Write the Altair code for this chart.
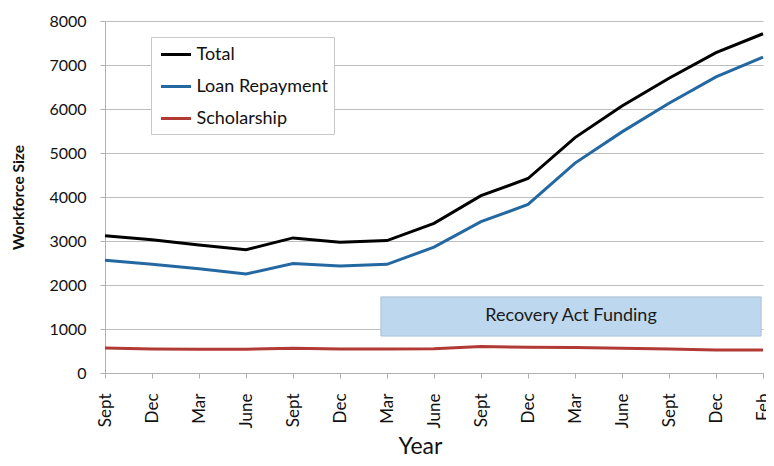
import altair as alt
import pandas as pd

months = ["Sept", "Dec", "Mar", "June", "Sept", "Dec", "Mar", "June",
          "Sept", "Dec", "Mar", "June", "Sept", "Dec", "Feb"]
total = [3120, 3030, 2910, 2800, 3070, 2970, 3010, 3400, 4030, 4420, 5350, 6070, 6700, 7280, 7710]
loan = [2560, 2470, 2370, 2250, 2490, 2430, 2470, 2860, 3440, 3830, 4770, 5480, 6130, 6730, 7180]
scholarship = [570, 545, 540, 540, 560, 545, 545, 550, 600, 585, 580, 560, 545, 520, 520]
series = ["Total", "Loan Repayment", "Scholarship"]
colors = ["#000000", "#2468a2", "#b23a34"]

# Recovery Act funding band (x in category index units, y in workforce units)
band_x = [5.87]
band_x2 = [13.96]
band_y = [840]
band_y2 = [1730]
band_label = ["Recovery Act Funding"]

rows = []
for name, vals in zip(series, [total, loan, scholarship]):
    for i, v in enumerate(vals):
        rows.append({"idx": i, "series": name, "value": v})
df = pd.DataFrame(rows)

band_df = pd.DataFrame({"x": band_x, "x2": band_x2, "y": band_y, "y2": band_y2,
                        "label": band_label})
band_df["xm"] = (band_df["x"] + band_df["x2"]) / 2
band_df["ym"] = (band_df["y"] + band_df["y2"]) / 2

font = "Lato"
label_js = "[" + ",".join("'" + m + "'" for m in months) + "]"

x_scale = alt.Scale(domain=[0, len(months) - 1], nice=False, zero=False)
y_scale = alt.Scale(domain=[0, 8000], nice=False)

x_axis = alt.Axis(
    values=list(range(len(months))),
    labelExpr=label_js + "[datum.value]",
    labelAngle=-90, labelAlign="right", labelBaseline="middle",
    labelFontSize=17, labelFont=font, labelColor="#111", labelPadding=15,
    tickSize=5, tickColor="#b0b0b0", domainColor="#b0b0b0", grid=False,
    title="Year", titleFontSize=23, titleFont=font, titleFontWeight="normal",
    titleColor="#111", titlePadding=8, titleX=315,
)
y_axis = alt.Axis(
    values=list(range(0, 8001, 500)),
    labelExpr="datum.value % 1000 === 0 ? datum.value : ''",
    labelFontSize=16, labelFont=font, labelColor="#111", labelPadding=14,
    tickSize=5, tickColor="#b0b0b0", domainColor="#b0b0b0",
    gridColor="#bdbdbd",
    gridOpacity={"condition": {"test": "datum.value % 1000 === 0", "value": 1}, "value": 0},
    title="Workforce Size", titleFontSize=15.5, titleFont=font, titleFontWeight="bold",
    titleColor="#111", titlePadding=22,
)

lines = alt.Chart(df).mark_line(strokeWidth=3).encode(
    x=alt.X("idx:Q", scale=x_scale, axis=x_axis),
    y=alt.Y("value:Q", scale=y_scale, axis=y_axis),
    color=alt.Color("series:N", scale=alt.Scale(domain=series, range=colors),
                    sort=series,
                    legend=alt.Legend(
                        title=None, orient="none", legendX=46, legendY=16,
                        symbolType="M-1.5,0H1.5", symbolStrokeWidth=3, symbolSize=400,
                        symbolOffset=7.5,
                        labelFontSize=18, labelFont=font, labelColor="#111",
                        rowPadding=11, padding=6, strokeColor="#c8c8c8",
                        fillColor="white", labelOffset=9, labelLimit=300)),
    detail="series:N",
)

band = alt.Chart(band_df).mark_rect(fill="#bdd7ee", stroke="#a9c1d8", strokeWidth=1).encode(
    x=alt.X("x:Q", scale=x_scale), x2="x2:Q",
    y=alt.Y("y:Q", scale=y_scale), y2="y2:Q",
)
band_text = alt.Chart(band_df).mark_text(fontSize=18, font=font, color="#1a1a1a").encode(
    x=alt.X("xm:Q", scale=x_scale), y=alt.Y("ym:Q", scale=y_scale), text="label:N",
)

chart = alt.layer(band, band_text, lines).properties(
    width=658, height=352,
    autosize=alt.AutoSizeParams(type="none"),
    padding={"left": 97, "top": 13, "right": 3, "bottom": 85},
).configure_view(stroke=None)

chart.save("out.html", embed_options={"renderer": "svg", "actions": False})
